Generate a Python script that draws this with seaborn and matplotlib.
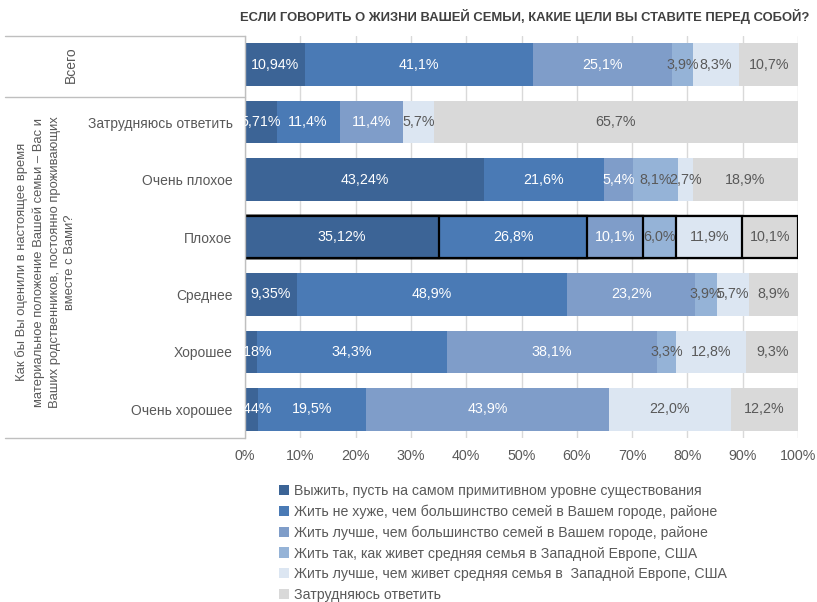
import matplotlib
matplotlib.use("Agg")
import matplotlib.pyplot as plt
import seaborn as sns
import pandas as pd
import numpy as np
from matplotlib.patches import Patch
from matplotlib.lines import Line2D
from matplotlib import font_manager

# ---------------- data ----------------
rows = ["Всего", "Затрудняюсь ответить", "Очень плохое", "Плохое",
        "Среднее", "Хорошее", "Очень хорошее"]
row_labels = ["", "Затрудняюсь ответить", "Очень плохое", "Плохое",
              "Среднее", "Хорошее", "Очень хорошее"]
series_names = [
    "Выжить, пусть на самом примитивном уровне существования",
    "Жить не хуже, чем большинство семей в Вашем городе, районе",
    "Жить лучше, чем большинство семей в Вашем городе, районе",
    "Жить так, как живет средняя семья в Западной Европе, США",
    "Жить лучше, чем живет средняя семья в  Западной Европе, США",
    "Затрудняюсь ответить",
]
s1 = [10.94, 5.71, 43.24, 35.12, 9.35, 2.18, 2.44]
s2 = [41.1, 11.4, 21.6, 26.8, 48.9, 34.3, 19.5]
s3 = [25.1, 11.4, 5.4, 10.1, 23.2, 38.1, 43.9]
s4 = [3.9, 0.0, 8.1, 6.0, 3.9, 3.3, 0.0]
s5 = [8.3, 5.7, 2.7, 11.9, 5.7, 12.8, 22.0]
s6 = [10.7, 65.7, 18.9, 10.1, 8.9, 9.3, 12.2]
series = [s1, s2, s3, s4, s5, s6]
decimals = [2, 1, 1, 1, 1, 1]
x_ticks = [0, 10, 20, 30, 40, 50, 60, 70, 80, 90, 100]
x_tick_labels = [f"{t}%" for t in x_ticks]
title = "ЕСЛИ ГОВОРИТЬ О ЖИЗНИ ВАШЕЙ СЕМЬИ, КАКИЕ ЦЕЛИ ВЫ СТАВИТЕ ПЕРЕД СОБОЙ?"
group_label = ("Как бы Вы оценили в настоящее время\n"
               "материальное положение Вашей семьи – Вас и\n"
               "Ваших родственников, постоянно проживающих\n"
               "вместе с Вами?")
highlight_row = "Плохое"

colors = ["#3C6496", "#4A7AB5", "#7F9DC9", "#95B3D7", "#DCE6F2", "#D9D9D9"]
text_colors = ["white", "white", "white", "#595959", "#595959", "#595959"]
gray_txt = "#595959"

# ---------------- style ----------------
sns.set_theme(style="white")
names = {f.name for f in font_manager.fontManager.ttflist}
fam = "Liberation Sans Narrow" if "Liberation Sans Narrow" in names else "Liberation Sans"
plt.rcParams["font.family"] = [fam, "DejaVu Sans"]

W, H = 817, 602
fig = plt.figure(figsize=(W / 100, H / 100), dpi=100)

def fx(px):
    return px / W

def fy(py):
    return 1 - py / H

ax_l, ax_r, ax_t, ax_b = 245, 798, 36, 438
ax = fig.add_axes([fx(ax_l), fy(ax_b), fx(ax_r - ax_l), (ax_b - ax_t) / H])

cum = np.cumsum(np.array(series, dtype=float), axis=0)
hi = rows.index(highlight_row)
for k in reversed(range(len(series))):
    d = pd.DataFrame({"row": rows, "val": cum[k]})
    sns.barplot(data=d, x="val", y="row", order=rows, color=colors[k],
                saturation=1, width=0.74, ax=ax, linewidth=0,
                edgecolor="none", zorder=2)
    p = ax.containers[-1].patches[hi]
    p.set_edgecolor("black")
    p.set_linewidth(1.6)

# data labels
for i in range(len(rows)):
    for k, s in enumerate(series):
        v = s[i]
        if v <= 0:
            continue
        xc = cum[k][i] - v / 2
        txt = f"{v:.{decimals[k]}f}".replace(".", ",") + "%"
        ax.text(xc, i, txt, ha="center", va="center", fontsize=10.3,
                color=text_colors[k], clip_on=True, zorder=5)

ax.set_xlim(0, 100)
ax.set_ylim(len(rows) - 0.5, -0.5)
ax.set_xticks(x_ticks)
ax.set_xticklabels(x_tick_labels, fontsize=10.3, color=gray_txt)
ax.set_yticks(range(len(rows)))
ax.set_yticklabels(row_labels, fontsize=10, color=gray_txt)
ax.tick_params(axis="y", length=0, pad=9)
ax.tick_params(axis="x", length=0, pad=8)
ax.set_xlabel("")
ax.set_ylabel("")
ax.set_axisbelow(True)
ax.xaxis.grid(True, color="#D9D9D9", linewidth=1, zorder=0)
ax.yaxis.grid(False)
for side in ["top", "right", "bottom"]:
    ax.spines[side].set_visible(False)
ax.spines["left"].set_color("#BFBFBF")
ax.spines["left"].set_linewidth(1)

# left panel table lines
line_kw = dict(color="#BFBFBF", linewidth=1, transform=fig.transFigure)
for yy in [ax_t, 97, ax_b]:
    fig.add_artist(Line2D([fx(5), fx(ax_l)], [fy(yy), fy(yy)], **line_kw))

fig.text(fx(71), fy(65), "Всего", rotation=90, ha="center", va="center",
         fontsize=10, color=gray_txt)
fig.text(fx(46), fy(262), group_label, rotation=90, ha="center", va="center",
         fontsize=9.4, color=gray_txt, multialignment="center", linespacing=1.42)

# title
fig.text(fx(525), fy(17), title, ha="center", va="center", fontsize=9.4,
         fontweight="bold", color="#404040")

# legend
handles = [Patch(facecolor=c, edgecolor="none") for c in colors]
leg = fig.legend(handles, series_names, loc="upper left",
                 bbox_to_anchor=(fx(273), fy(478)), frameon=False,
                 fontsize=10.2, handlelength=0.75, handleheight=0.75,
                 handletextpad=0.3, labelspacing=0.47, borderaxespad=0)
for t in leg.get_texts():
    t.set_color(gray_txt)

fig.savefig("out.png", dpi=100)
